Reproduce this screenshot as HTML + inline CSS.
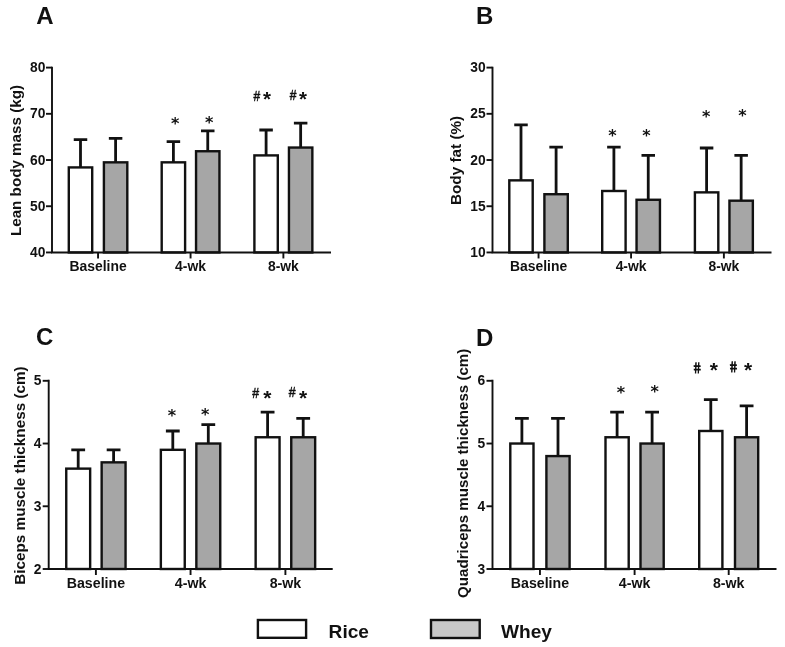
<!DOCTYPE html>
<html lang="en">
<head>
<meta charset="utf-8">
<title>Figure</title>
<style>
html,body{margin:0;padding:0;background:#ffffff;}
body{width:785px;height:647px;overflow:hidden;}
svg{display:block;}
text{font-family:"Liberation Sans", Arial, Helvetica, sans-serif;fill:#111111;}
.l{fill:none;stroke:#111111;stroke-width:2.8;}
.a{fill:none;stroke:#111111;stroke-width:1.9;}
.b{stroke:#111111;stroke-width:2.4;}
.lb{stroke:#111111;stroke-width:2.4;}
.t{font-size:13.8px;font-weight:bold;}
.x{font-size:13.9px;font-weight:bold;}
.yl{font-size:14.9px;font-weight:bold;}
.pl{font-size:24px;font-weight:bold;}
.lg{font-size:19.1px;font-weight:bold;}
.s6{font-family:"DejaVu Sans","Liberation Sans",sans-serif;font-size:16px;font-weight:bold;}
.s5{font-size:19.5px;font-weight:bold;}
.sh{font-size:14.5px;font-weight:normal;stroke:#111111;stroke-width:0.5;}
</style>
</head>
<body>
<svg width="785" height="647" viewBox="0 0 785 647">
<rect x="0" y="0" width="785" height="647" fill="#ffffff"/>
<g id="panelA">
<path d="M80.5 167.42V139.69M73.75 139.69H87.25" class="l"/>
<rect x="68.8" y="167.42" width="23.4" height="85.03" fill="#ffffff" class="b"/>
<path d="M115.6 162.34V138.31M108.85 138.31H122.35" class="l"/>
<rect x="103.9" y="162.34" width="23.4" height="90.11" fill="#a6a6a6" class="b"/>
<path d="M173.4 162.34V141.54M166.65 141.54H180.15" class="l"/>
<rect x="161.7" y="162.34" width="23.4" height="90.11" fill="#ffffff" class="b"/>
<path d="M207.75 151.24V130.91M201 130.91H214.5" class="l"/>
<rect x="196.05" y="151.24" width="23.4" height="101.21" fill="#a6a6a6" class="b"/>
<path d="M266.1 155.4V129.99M259.35 129.99H272.85" class="l"/>
<rect x="254.4" y="155.4" width="23.4" height="97.05" fill="#ffffff" class="b"/>
<path d="M300.65 147.55V123.06M293.9 123.06H307.4" class="l"/>
<rect x="288.95" y="147.55" width="23.4" height="104.9" fill="#a6a6a6" class="b"/>
<path d="M52 66.65V252.45M51.05 252.45H331" class="a"/>
<path d="M46 252.45H52" class="a"/>
<text x="45.4" y="257.05" class="t" text-anchor="end">40</text>
<path d="M46 206.24H52" class="a"/>
<text x="45.4" y="210.84" class="t" text-anchor="end">50</text>
<path d="M46 160.02H52" class="a"/>
<text x="45.4" y="164.62" class="t" text-anchor="end">60</text>
<path d="M46 113.81H52" class="a"/>
<text x="45.4" y="118.41" class="t" text-anchor="end">70</text>
<path d="M46 67.6H52" class="a"/>
<text x="45.4" y="72.2" class="t" text-anchor="end">80</text>
<path d="M98.05 252.45V258.45" class="a"/>
<text x="98.05" y="270.65" class="x" style="font-size:13.9px" text-anchor="middle">Baseline</text>
<path d="M190.57 252.45V258.45" class="a"/>
<text x="190.57" y="270.65" class="x" style="font-size:13.9px" text-anchor="middle">4-wk</text>
<path d="M283.38 252.45V258.45" class="a"/>
<text x="283.38" y="270.65" class="x" style="font-size:13.9px" text-anchor="middle">8-wk</text>
<text transform="translate(20.6 160.52) rotate(-90)" class="yl" style="font-size:15.2px" text-anchor="middle">Lean body mass (kg)</text>
<text x="36.2" y="23.9" class="pl">A</text>
<text x="175.2" y="129.16" class="s6" style="font-size:16px" text-anchor="middle">*</text>
<text x="209.1" y="128.36" class="s6" style="font-size:16px" text-anchor="middle">*</text>
<text transform="translate(256.8 100.7) scale(0.8 1)" class="sh" style="font-size:15px" text-anchor="middle">#</text>
<text x="267" y="105.95" class="s5" style="font-size:20.5px" text-anchor="middle">*</text>
<text transform="translate(293.1 99.8) scale(0.8 1)" class="sh" style="font-size:15px" text-anchor="middle">#</text>
<text x="303" y="105.65" class="s5" style="font-size:20.5px" text-anchor="middle">*</text>
</g>
<g id="panelB">
<path d="M521 180.36V124.9M514.25 124.9H527.75" class="l"/>
<rect x="509.3" y="180.36" width="23.4" height="72.09" fill="#ffffff" class="b"/>
<path d="M556.1 194.22V147.09M549.35 147.09H562.85" class="l"/>
<rect x="544.4" y="194.22" width="23.4" height="58.23" fill="#a6a6a6" class="b"/>
<path d="M613.9 190.99V147.09M607.15 147.09H620.65" class="l"/>
<rect x="602.2" y="190.99" width="23.4" height="61.46" fill="#ffffff" class="b"/>
<path d="M648.25 199.77V155.4M641.5 155.4H655" class="l"/>
<rect x="636.55" y="199.77" width="23.4" height="52.68" fill="#a6a6a6" class="b"/>
<path d="M706.6 192.37V148.01M699.85 148.01H713.35" class="l"/>
<rect x="694.9" y="192.37" width="23.4" height="60.08" fill="#ffffff" class="b"/>
<path d="M741.15 200.69V155.4M734.4 155.4H747.9" class="l"/>
<rect x="729.45" y="200.69" width="23.4" height="51.76" fill="#a6a6a6" class="b"/>
<path d="M492.5 66.65V252.45M491.55 252.45H771.5" class="a"/>
<path d="M486.5 252.45H492.5" class="a"/>
<text x="485.7" y="257.05" class="t" text-anchor="end">10</text>
<path d="M486.5 206.24H492.5" class="a"/>
<text x="485.7" y="210.84" class="t" text-anchor="end">15</text>
<path d="M486.5 160.02H492.5" class="a"/>
<text x="485.7" y="164.62" class="t" text-anchor="end">20</text>
<path d="M486.5 113.81H492.5" class="a"/>
<text x="485.7" y="118.41" class="t" text-anchor="end">25</text>
<path d="M486.5 67.6H492.5" class="a"/>
<text x="485.7" y="72.2" class="t" text-anchor="end">30</text>
<path d="M538.55 252.45V258.45" class="a"/>
<text x="538.55" y="270.65" class="x" style="font-size:13.9px" text-anchor="middle">Baseline</text>
<path d="M631.08 252.45V258.45" class="a"/>
<text x="631.08" y="270.65" class="x" style="font-size:13.9px" text-anchor="middle">4-wk</text>
<path d="M723.88 252.45V258.45" class="a"/>
<text x="723.88" y="270.65" class="x" style="font-size:13.9px" text-anchor="middle">8-wk</text>
<text transform="translate(460.5 160.42) rotate(-90)" class="yl" style="font-size:15.3px" text-anchor="middle">Body fat (%)</text>
<text x="476" y="23.9" class="pl">B</text>
<text x="612.5" y="141.21" class="s6" style="font-size:16px" text-anchor="middle">*</text>
<text x="646.55" y="140.51" class="s6" style="font-size:16px" text-anchor="middle">*</text>
<text x="706.3" y="122.01" class="s6" style="font-size:16px" text-anchor="middle">*</text>
<text x="742.4" y="121.36" class="s6" style="font-size:16px" text-anchor="middle">*</text>
</g>
<g id="panelC">
<path d="M78.2 468.63V449.81M71.3 449.81H85.1" class="l"/>
<rect x="66.25" y="468.63" width="23.9" height="100.37" fill="#ffffff" class="b"/>
<path d="M113.6 462.35V449.81M106.7 449.81H120.5" class="l"/>
<rect x="101.65" y="462.35" width="23.9" height="106.65" fill="#a6a6a6" class="b"/>
<path d="M172.8 449.81V430.99M165.9 430.99H179.7" class="l"/>
<rect x="160.85" y="449.81" width="23.9" height="119.19" fill="#ffffff" class="b"/>
<path d="M208.3 443.53V424.71M201.4 424.71H215.2" class="l"/>
<rect x="196.35" y="443.53" width="23.9" height="125.47" fill="#a6a6a6" class="b"/>
<path d="M267.6 437.26V412.17M260.7 412.17H274.5" class="l"/>
<rect x="255.65" y="437.26" width="23.9" height="131.74" fill="#ffffff" class="b"/>
<path d="M303.2 437.26V418.44M296.3 418.44H310.1" class="l"/>
<rect x="291.25" y="437.26" width="23.9" height="131.74" fill="#a6a6a6" class="b"/>
<path d="M48.7 379.85V569M47.75 569H332.7" class="a"/>
<path d="M42.7 569H48.7" class="a"/>
<text x="41.4" y="573.6" class="t" text-anchor="end">2</text>
<path d="M42.7 506.27H48.7" class="a"/>
<text x="41.4" y="510.87" class="t" text-anchor="end">3</text>
<path d="M42.7 443.53H48.7" class="a"/>
<text x="41.4" y="448.13" class="t" text-anchor="end">4</text>
<path d="M42.7 380.8H48.7" class="a"/>
<text x="41.4" y="385.4" class="t" text-anchor="end">5</text>
<path d="M95.9 569V575" class="a"/>
<text x="95.9" y="587.6" class="x" style="font-size:14.2px" text-anchor="middle">Baseline</text>
<path d="M190.55 569V575" class="a"/>
<text x="190.55" y="587.6" class="x" style="font-size:14.2px" text-anchor="middle">4-wk</text>
<path d="M285.4 569V575" class="a"/>
<text x="285.4" y="587.6" class="x" style="font-size:14.2px" text-anchor="middle">8-wk</text>
<text transform="translate(24.6 475.55) rotate(-90)" class="yl" style="font-size:15.3px" text-anchor="middle">Biceps muscle thickness (cm)</text>
<text x="36" y="345.4" class="pl">C</text>
<text x="171.9" y="420.56" class="s6" style="font-size:16px" text-anchor="middle">*</text>
<text x="205.2" y="419.56" class="s6" style="font-size:16px" text-anchor="middle">*</text>
<text transform="translate(255.7 398.04) scale(0.8 1)" class="sh" style="font-size:15.4px" text-anchor="middle">#</text>
<text x="267.4" y="404.71" class="s5" style="font-size:21px" text-anchor="middle">*</text>
<text transform="translate(292.25 397.39) scale(0.8 1)" class="sh" style="font-size:15.4px" text-anchor="middle">#</text>
<text x="303" y="404.81" class="s5" style="font-size:21px" text-anchor="middle">*</text>
</g>
<g id="panelD">
<path d="M521.9 443.53V418.44M515 418.44H528.8" class="l"/>
<rect x="510.3" y="443.53" width="23.2" height="125.47" fill="#ffffff" class="b"/>
<path d="M558 456.08V418.44M551.1 418.44H564.9" class="l"/>
<rect x="546.4" y="456.08" width="23.2" height="112.92" fill="#a6a6a6" class="b"/>
<path d="M617.1 437.26V412.17M610.2 412.17H624" class="l"/>
<rect x="605.5" y="437.26" width="23.2" height="131.74" fill="#ffffff" class="b"/>
<path d="M652.1 443.53V412.17M645.2 412.17H659" class="l"/>
<rect x="640.5" y="443.53" width="23.2" height="125.47" fill="#a6a6a6" class="b"/>
<path d="M710.8 430.99V399.62M703.9 399.62H717.7" class="l"/>
<rect x="699.2" y="430.99" width="23.2" height="138.01" fill="#ffffff" class="b"/>
<path d="M746.6 437.26V405.89M739.7 405.89H753.5" class="l"/>
<rect x="735" y="437.26" width="23.2" height="131.74" fill="#a6a6a6" class="b"/>
<path d="M492.5 379.85V569M491.55 569H776.5" class="a"/>
<path d="M486.5 569H492.5" class="a"/>
<text x="485.2" y="573.6" class="t" text-anchor="end">3</text>
<path d="M486.5 506.27H492.5" class="a"/>
<text x="485.2" y="510.87" class="t" text-anchor="end">4</text>
<path d="M486.5 443.53H492.5" class="a"/>
<text x="485.2" y="448.13" class="t" text-anchor="end">5</text>
<path d="M486.5 380.8H492.5" class="a"/>
<text x="485.2" y="385.4" class="t" text-anchor="end">6</text>
<path d="M539.95 569V575" class="a"/>
<text x="539.95" y="587.6" class="x" style="font-size:14.2px" text-anchor="middle">Baseline</text>
<path d="M634.6 569V575" class="a"/>
<text x="634.6" y="587.6" class="x" style="font-size:14.2px" text-anchor="middle">4-wk</text>
<path d="M728.7 569V575" class="a"/>
<text x="728.7" y="587.6" class="x" style="font-size:14.2px" text-anchor="middle">8-wk</text>
<text transform="translate(468 473.3) rotate(-90)" class="yl" style="font-size:15.1px" text-anchor="middle">Quadriceps muscle thickness (cm)</text>
<text x="476.1" y="346.2" class="pl">D</text>
<text x="620.9" y="397.66" class="s6" style="font-size:16px" text-anchor="middle">*</text>
<text x="654.8" y="396.56" class="s6" style="font-size:16px" text-anchor="middle">*</text>
<text transform="translate(697.8 372.55) scale(0.8 1) skewX(9)" class="sh" style="font-size:15px;stroke-width:0.85" text-anchor="middle">#</text>
<text x="713.95" y="376.91" class="s5" style="font-size:21px" text-anchor="middle">*</text>
<text transform="translate(734.15 371.75) scale(0.8 1) skewX(9)" class="sh" style="font-size:15px;stroke-width:0.85" text-anchor="middle">#</text>
<text x="748" y="376.91" class="s5" style="font-size:21px" text-anchor="middle">*</text>
</g>
<g id="legend">
<rect x="257.9" y="620" width="48.2" height="17.8" fill="#ffffff" class="lb"/>
<text x="328.6" y="637.6" class="lg">Rice</text>
<rect x="431" y="620" width="48.7" height="18" fill="#c8c8c8" class="lb"/>
<text x="501" y="637.6" class="lg">Whey</text>
</g>
</svg>
</body>
</html>
